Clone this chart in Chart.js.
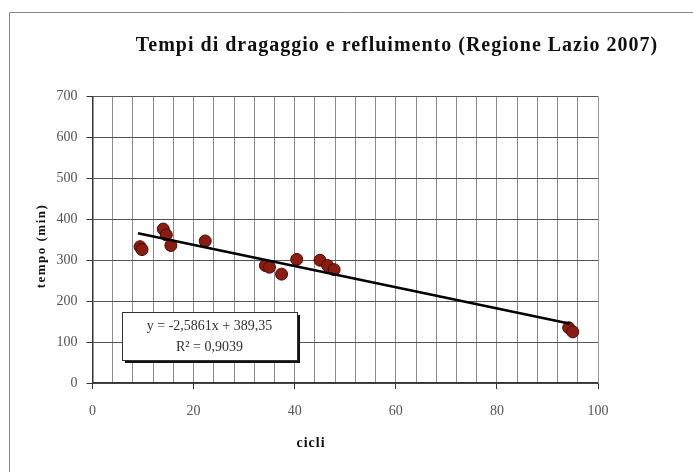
<!DOCTYPE html>
<html>
<head>
<meta charset="utf-8">
<script src="https://cdn.jsdelivr.net/npm/chart.js@4/dist/chart.umd.min.js"></script>
<style>
  html, body { margin: 0; padding: 0; background: #fff; }
  #wrap { width: 693px; height: 472px; position: relative; }
</style>
</head>
<body>
<div id="wrap"><canvas id="chart"></canvas></div>
<script>
// Data
const cicli = [9.4, 9.8, 14.0, 14.6, 15.5, 22.3, 34.2, 35.0, 37.4, 40.4, 45.0, 46.5, 47.8, 94.2, 95.0];
const tempo = [333, 326, 376, 362, 336, 347, 287, 283, 266, 302, 300, 287, 277, 135, 125];

// trend line end points (x from picture, y from the shown equation)
const trendX = [9.0, 94.5];
const trendY = [366, 145];

const yTicks = [0, 100, 200, 300, 400, 500, 600, 700];
const xTicks = [0, 20, 40, 60, 80, 100];

const titleText = "Tempi di dragaggio e refluimento (Regione Lazio 2007)";
const xTitle = "cicli";
const yTitle = "tempo (min)";
const eqLines = ["y = -2,5861x + 389,35", "R\u00B2 = 0,9039"];

const points = cicli.map((x, i) => ({ x: x, y: tempo[i] }));
const trend = trendX.map((x, i) => ({ x: x, y: trendY[i] }));

// draws frame, title, axis titles and the equation box
const extras = {
    id: "extras",
    afterDraw(chart) {
        const ctx = chart.ctx;
        const a = chart.chartArea;
        ctx.save();

        // outer frame (top + left only visible)
        ctx.strokeStyle = "#8a8a8a";
        ctx.lineWidth = 1;
        ctx.beginPath();
        ctx.moveTo(9.5, 472);
        ctx.lineTo(9.5, 12.5);
        ctx.lineTo(693, 12.5);
        ctx.stroke();

        // plot right border
        ctx.strokeStyle = "#999";
        ctx.beginPath();
        ctx.moveTo(a.right + 0.5, a.top);
        ctx.lineTo(a.right + 0.5, a.bottom);
        ctx.stroke();

        // title
        ctx.fillStyle = "#111";
        ctx.font = "bold 20px 'Liberation Serif'";
        ctx.letterSpacing = "1px";
        ctx.textAlign = "center";
        ctx.textBaseline = "middle";
        ctx.fillText(titleText, 397, 46);

        // x title
        ctx.font = "bold 14px 'Liberation Serif'";
        ctx.letterSpacing = "1px";
        ctx.fillText(xTitle, 311, 443);

        // y title
        ctx.save();
        ctx.translate(42, 246);
        ctx.rotate(-Math.PI / 2);
        ctx.font = "bold 13px 'Liberation Serif'";
        ctx.letterSpacing = "1.5px";
        ctx.fillText(yTitle, 0, 0);
        ctx.restore();
        ctx.letterSpacing = "0px";

        // equation box
        const bx = 122, by = 312, bw = 175, bh = 48;
        ctx.fillStyle = "#111";
        ctx.fillRect(bx + 3, by + 3, bw, bh);
        ctx.fillStyle = "#fff";
        ctx.fillRect(bx, by, bw, bh);
        ctx.strokeStyle = "#333";
        ctx.lineWidth = 1;
        ctx.strokeRect(bx + 0.5, by + 0.5, bw, bh);
        ctx.fillStyle = "#333";
        ctx.font = "14px 'Liberation Serif'";
        ctx.fillText(eqLines[0], bx + bw / 2, by + 14);
        ctx.fillText(eqLines[1], bx + bw / 2, by + 35);

        ctx.restore();
    }
};

new Chart(document.getElementById("chart"), {
    type: "scatter",
    data: {
        datasets: [
            {
                label: "tempo",
                data: points,
                backgroundColor: "#8b1c12",
                borderColor: "#4a0b05",
                borderWidth: 1,
                pointRadius: 6,
                order: 2
            },
            {
                type: "line",
                label: "trend",
                data: trend,
                borderColor: "#000",
                borderWidth: 2.5,
                pointRadius: 0,
                fill: false,
                order: 1
            }
        ]
    },
    options: {
        responsive: true,
        maintainAspectRatio: false,
        animation: false,
        events: [],
        layout: { padding: { left: 0, top: 96.5, right: 95, bottom: 0 } },
        plugins: {
            legend: { display: false },
            tooltip: { enabled: false }
        },
        scales: {
            x: {
                type: "linear",
                min: xTicks[0],
                max: xTicks[xTicks.length - 1],
                afterFit: s => { s.height = 89; },
                ticks: {
                    stepSize: 4,
                    autoSkip: false,
                    maxRotation: 0,
                    padding: 14,
                    color: "#555",
                    font: { family: "'Liberation Serif'", size: 14 },
                    callback: v => (xTicks.includes(v) ? String(v) : "")
                },
                grid: {
                    color: "#8a8a8a",
                    lineWidth: 1,
                    tickLength: 6,
                    tickColor: c => (c.tick && xTicks.includes(c.tick.value) ? "#333" : "rgba(0,0,0,0)")
                },
                border: { color: "#333", width: 1.5 }
            },
            y: {
                type: "linear",
                min: yTicks[0],
                max: yTicks[yTicks.length - 1],
                afterFit: s => { s.width = 92.5; },
                ticks: {
                    stepSize: 100,
                    padding: 9,
                    color: "#555",
                    font: { family: "'Liberation Serif'", size: 14 }
                },
                grid: {
                    color: "#555",
                    lineWidth: 1,
                    tickLength: 6,
                    tickColor: "#333"
                },
                border: { color: "#333", width: 1.5 }
            }
        }
    },
    plugins: [extras]
});
</script>
</body>
</html>
